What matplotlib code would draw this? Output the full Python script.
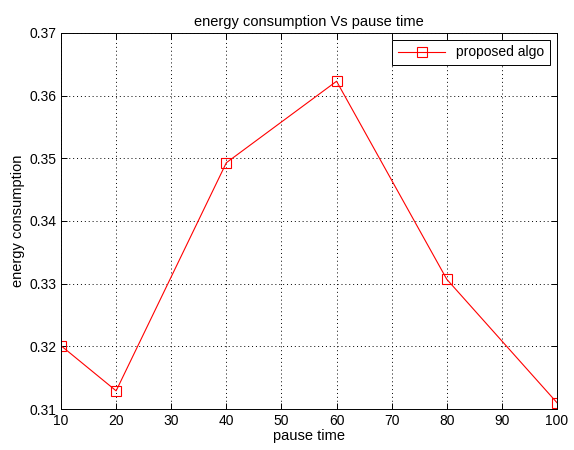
import numpy as np
import matplotlib
matplotlib.use("Agg")
import matplotlib.pyplot as plt

# pause time vs energy consumption
pause_time = [10, 20, 40, 60, 80, 100]
energy = [0.3201, 0.3129, 0.3493, 0.3623, 0.3307, 0.3110]

x_ticks = [10, 20, 30, 40, 50, 60, 70, 80, 90, 100]
y_ticks = [0.31, 0.32, 0.33, 0.34, 0.35, 0.36, 0.37]

plt.rcParams["font.family"] = ["Liberation Sans", "DejaVu Sans"]
plt.rcParams["font.size"] = 10.5

fig = plt.figure(figsize=(5.74, 4.5), dpi=100)
ax = fig.add_axes([0.1063, 0.0911, 0.8641, 0.8356])

ax.plot(pause_time, energy, color="red", linewidth=0.8, marker="s",
        markersize=7, markerfacecolor="none", markeredgecolor="red",
        markeredgewidth=0.8, label="proposed algo")

ax.set_xlim(10, 100)
ax.set_ylim(0.31, 0.37)
ax.set_xticks(x_ticks)
ax.set_yticks(y_ticks)
ax.set_yticklabels([f"{v:.2f}" for v in y_ticks])

ax.grid(True, linestyle=(0, (1, 3)), color="black", linewidth=0.7)
ax.tick_params(direction="in", length=4, width=0.7, top=True, right=True,
               labelsize=10, colors="black")
for s in ax.spines.values():
    s.set_linewidth(0.7)

ax.set_title("energy consumption Vs pause time", fontsize=10.5, pad=5)
ax.set_xlabel("pause time", fontsize=10.5, labelpad=1)
ax.set_ylabel("energy consumption", fontsize=10.5, labelpad=3)

leg = ax.legend(loc="upper right", fontsize=10, fancybox=False,
                framealpha=1, edgecolor="black", handlelength=3.4,
                borderaxespad=0.5)
leg.get_frame().set_linewidth(0.7)

fig.savefig("out.png", dpi=100, facecolor="white")
